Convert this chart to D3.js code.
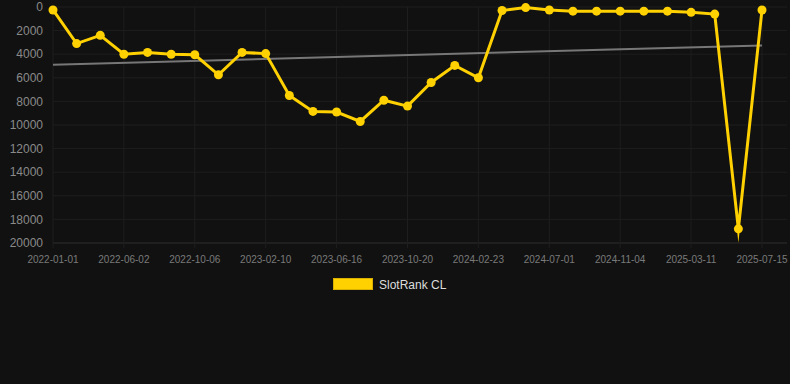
<!DOCTYPE html>
<html>
<head>
<meta charset="utf-8">
<script src="https://cdn.jsdelivr.net/npm/d3@7"></script>
<style>
  html, body { margin: 0; padding: 0; background: #111111; }
  #canvas { width: 790px; height: 384px; }
  text { font-family: "Liberation Sans", Arial, sans-serif; }
</style>
</head>
<body>
<div id="canvas"></div>
<script>
const dates = [
  "2022-01-01", "2022-02-20", "2022-04-11", "2022-06-02", "2022-07-14", "2022-08-25",
  "2022-10-06", "2022-11-17", "2022-12-29", "2023-02-10", "2023-03-24", "2023-05-05",
  "2023-06-16", "2023-07-28", "2023-09-08", "2023-10-20", "2023-12-01", "2024-01-12",
  "2024-02-23", "2024-04-05", "2024-05-18", "2024-07-01", "2024-08-12", "2024-09-23",
  "2024-11-04", "2024-12-16", "2025-01-27", "2025-03-11", "2025-04-22", "2025-06-03",
  "2025-07-15"
];
const ranks = [
  250, 3100, 2400, 4000, 3850, 4000, 4050, 5750, 3850, 3950, 7500, 8850,
  8900, 9700, 7900, 8400, 6400, 4950, 6000, 300, 50, 250, 350, 350,
  350, 350, 350, 450, 600, 18800, 250
];
const yTicks = [0, 2000, 4000, 6000, 8000, 10000, 12000, 14000, 16000, 18000, 20000];
const seriesName = "SlotRank CL";

const canvas = d3.select("#canvas");

const createRankChart = () => {
  const width = 790;
  const height = 384;
  const left = 53, right = 787, top = 7, bottom = 243;

  const svg = canvas.append("svg").attr("width", width).attr("height", height);
  svg.append("rect").attr("width", width).attr("height", height).attr("fill", "#111111");

  const x = d3.scalePoint().domain(dates).range([left, 762]);
  const y = d3.scaleLinear().domain([0, 20000]).range([top, bottom]);

  const shown = dates.filter((d, i) => i % 3 === 0);

  // grid
  svg.append("g")
    .selectAll("line")
    .data(yTicks)
    .join("line")
    .attr("x1", left).attr("x2", right)
    .attr("y1", (d) => y(d)).attr("y2", (d) => y(d))
    .attr("stroke", (d) => (d === 20000 ? "#2e2e2e" : "#1e1e1e"))
    .attr("stroke-width", 1);

  svg.append("g")
    .selectAll("line")
    .data(shown)
    .join("line")
    .attr("x1", (d) => x(d)).attr("x2", (d) => x(d))
    .attr("y1", top).attr("y2", bottom + 5)
    .attr("stroke", "#1e1e1e")
    .attr("stroke-width", 1);

  // y axis labels
  svg.append("g")
    .selectAll("text")
    .data(yTicks)
    .join("text")
    .attr("x", 43)
    .attr("y", (d) => y(d))
    .attr("dy", "0.35em")
    .attr("text-anchor", "end")
    .attr("font-size", 12)
    .attr("fill", "#8a8a8a")
    .text((d) => d);

  // x axis labels
  svg.append("g")
    .selectAll("text")
    .data(shown)
    .join("text")
    .attr("x", (d) => x(d))
    .attr("y", 259)
    .attr("dy", "0.35em")
    .attr("text-anchor", "middle")
    .attr("font-size", 10)
    .attr("fill", "#7a7a7a")
    .text((d) => d);

  // trend (least squares over the series)
  const n = ranks.length;
  const mx = d3.mean(ranks, (d, i) => i);
  const my = d3.mean(ranks);
  const slope = d3.sum(ranks, (d, i) => (i - mx) * (d - my)) / d3.sum(ranks, (d, i) => (i - mx) ** 2);
  const trend = [0, n - 1].map((i) => ({ date: dates[i], v: my + slope * (i - mx) }));

  svg.append("path")
    .datum(trend)
    .attr("fill", "none")
    .attr("stroke", "#777777")
    .attr("stroke-width", 2)
    .attr("d", d3.line().x((d) => x(d.date)).y((d) => y(d.v)));

  // series
  const pts = ranks.map((v, i) => ({ date: dates[i], v }));
  svg.append("path")
    .datum(pts)
    .attr("fill", "none")
    .attr("stroke", "#FFD100")
    .attr("stroke-width", 3)
    .attr("stroke-linejoin", "miter")
    .attr("stroke-miterlimit", 10)
    .attr("d", d3.line().x((d) => x(d.date)).y((d) => y(d.v)));

  svg.append("g")
    .selectAll("circle")
    .data(pts)
    .join("circle")
    .attr("cx", (d) => x(d.date))
    .attr("cy", (d) => y(d.v))
    .attr("r", 4.5)
    .attr("fill", "#FFD100");

  // legend
  svg.append("rect")
    .attr("x", 333.5).attr("y", 278.5)
    .attr("width", 39).attr("height", 11)
    .attr("fill", "#FFD100")
    .attr("stroke", "#d9b000")
    .attr("stroke-width", 1);

  svg.append("text")
    .attr("x", 379)
    .attr("y", 285)
    .attr("dy", "0.35em")
    .attr("font-size", 12)
    .attr("fill", "#dddddd")
    .text(seriesName);
};

createRankChart();
</script>
</body>
</html>
